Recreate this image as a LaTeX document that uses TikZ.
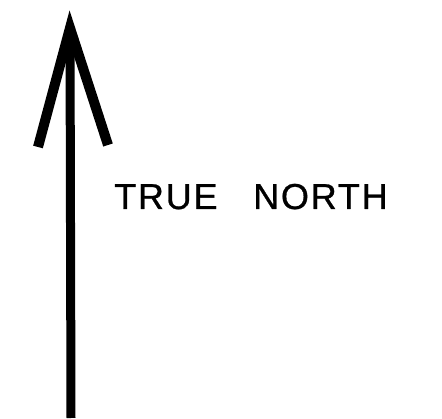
\documentclass[tikz,border=0pt]{standalone}
\usepackage{fontspec}
\setmainfont{Liberation Sans}[FakeBold=0.8,LetterSpace=5]
\begin{document}
\begin{tikzpicture}[x=1pt,y=1pt,
  shaftline/.style={line width=9pt,black},
  barbline/.style={line width=10pt,black,line join=miter,miter limit=20},
  label/.style={font=\fontsize{36}{36}\selectfont,anchor=base west,inner sep=0pt}]
\useasboundingbox (0,0) rectangle (442,418);
\coordinate (tip) at (70,390);
\coordinate (bottom) at (71,0);
\coordinate (lbarb) at (38,271);
\coordinate (rbarb) at (108,273);
\draw[shaftline] (bottom) -- (tip);
\draw[barbline] (lbarb) -- (tip) -- (rbarb);
\node[label] (t1) at (114,209) {TRUE};
\node[label] (t2) at (253,209) {NORTH};
\end{tikzpicture}
\end{document}
